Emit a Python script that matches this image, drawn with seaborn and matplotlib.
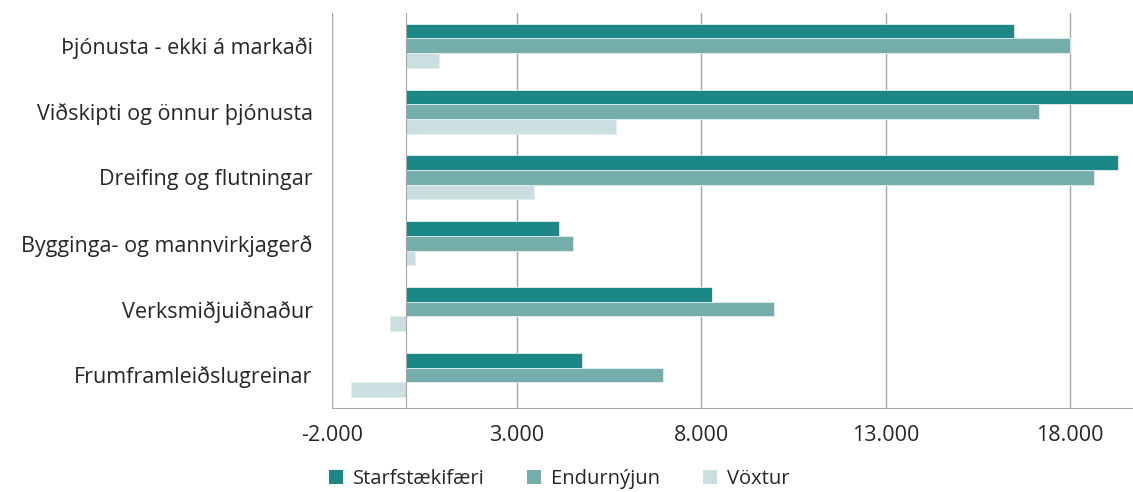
import matplotlib
matplotlib.use("Agg")
import matplotlib.pyplot as plt
import pandas as pd
import seaborn as sns
from matplotlib.patches import Patch
from matplotlib.ticker import FixedLocator, FuncFormatter

categories = [
    "Þjónusta - ekki á markaði",
    "Viðskipti og önnur þjónusta",
    "Dreifing og flutningar",
    "Bygginga- og mannvirkjagerð",
    "Verksmiðjuiðnaður",
    "Frumframleiðslugreinar",
]
series = ["Starfstækifæri", "Endurnýjun", "Vöxtur"]
starfstaekifaeri = [16470, 19900, 19300, 4160, 8290, 4775]
endurnyjun = [17990, 17160, 18640, 4540, 9975, 6960]
voxtur = [900, 5700, 3480, 250, -420, -1480]
x_ticks = [-2000, 3000, 8000, 13000, 18000]
colors = ["#1b8786", "#75adad", "#cbdfe0"]
text_color = "#262626"
line_color = "#a6a6a6"

frame = pd.DataFrame({
    "category": categories * 3,
    "series": [s for s in series for _ in categories],
    "value": starfstaekifaeri + endurnyjun + voxtur,
})

sns.set_style("white")
plt.rcParams["font.family"] = ["Open Sans", "DejaVu Sans"]

fig = plt.figure(figsize=(11.33, 4.92), dpi=100)
ax = fig.add_axes([0.293, 0.171, 0.707, 0.803])

sns.barplot(
    data=frame, y="category", x="value", hue="series", orient="h",
    order=categories, hue_order=series, palette=colors, saturation=1,
    width=0.67, edgecolor="#e6eeee", linewidth=0.6, ax=ax, legend=False,
    errorbar=None,
)

ax.set_xlim(-2000, 19700)
ax.xaxis.set_major_locator(FixedLocator(x_ticks))
ax.xaxis.set_major_formatter(FuncFormatter(lambda v, _: f"{v:,.0f}".replace(",", ".")))
ax.grid(axis="x", color=line_color, linewidth=1.0)
ax.grid(axis="y", visible=False)
ax.set_axisbelow(True)
ax.set(xlabel="", ylabel="")

for side in ["top", "right"]:
    ax.spines[side].set_visible(False)
ax.spines["bottom"].set_color(line_color)
ax.spines["left"].set_position(("data", 0))
ax.spines["left"].set_color(line_color)

ax.yaxis.set_minor_locator(FixedLocator([i - 0.5 for i in range(len(categories) + 1)]))
ax.tick_params(axis="y", which="major", length=0, pad=67, labelsize=15.5, labelcolor=text_color)
ax.tick_params(axis="y", which="minor", length=5, color=line_color, direction="out")
ax.tick_params(axis="x", length=4, color=line_color, pad=8, labelsize=15.5, labelcolor=text_color)

handles = [Patch(facecolor=c, edgecolor="none") for c in colors]
fig.legend(
    handles, series, loc="lower center", bbox_to_anchor=(0.4934, -0.03), ncol=3,
    frameon=False, fontsize=14.5, labelcolor=text_color, handlelength=0.7,
    handleheight=0.7, handletextpad=0.5, columnspacing=2.1,
)

fig.savefig("out.png", dpi=100)
